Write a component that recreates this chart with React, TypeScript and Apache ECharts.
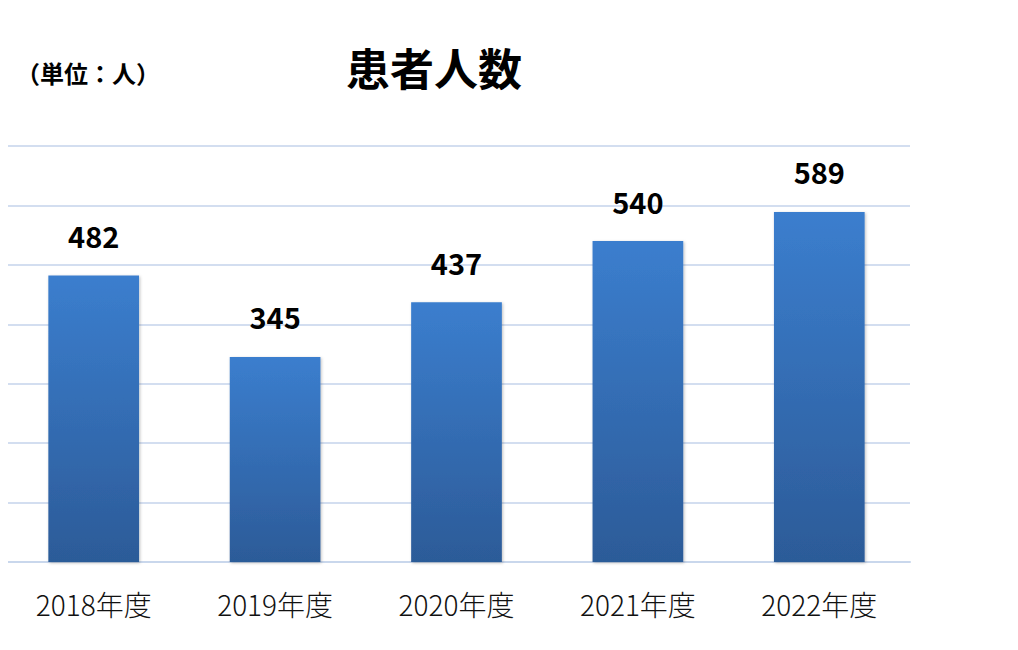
import React, { useEffect, useRef } from "react";
import * as echarts from "echarts";

const categories = ["2018年度", "2019年度", "2020年度", "2021年度", "2022年度"];
const patients = [482, 345, 437, 540, 589];
const yMin = 0;
const yMax = 700;
const yInterval = 100;

export default function App() {
  const ref = useRef<HTMLDivElement>(null);
  useEffect(() => {
    if (!ref.current) return;
    const chart = echarts.init(ref.current, undefined, { renderer: "svg" });
    const font = "'Noto Sans CJK JP', 'Noto Sans', sans-serif";
    chart.setOption({
      animation: false,
      backgroundColor: "#ffffff",
      textStyle: { fontFamily: font },
      title: [
        {
          text: "患者人数",
          left: 429,
          top: 40,
          textAlign: "center",
          textStyle: { fontSize: 44, fontWeight: "bold", color: "#000", fontFamily: font },
        },
        {
          text: "（単位：人）",
          left: 11,
          top: 55,
          textStyle: { fontSize: 24, fontWeight: "bold", color: "#000", fontFamily: font },
        },
      ],
      grid: { left: 3, right: 108, top: 146, bottom: 88, containLabel: false },
      xAxis: {
        type: "category",
        data: categories,
        axisLine: { show: true, lineStyle: { color: "#c9d7ec", width: 2 } },
        axisTick: { show: false },
        axisLabel: { fontSize: 28, color: "#111", margin: 28, fontFamily: font, fontWeight: 300 },
      },
      yAxis: {
        type: "value",
        min: yMin,
        max: yMax,
        interval: yInterval,
        axisLabel: { show: false },
        axisLine: { show: false },
        axisTick: { show: false },
        splitLine: { lineStyle: { color: "#d3def0", width: 2 } },
      },
      series: [
        {
          type: "bar",
          data: patients,
          barWidth: "50%",
          itemStyle: {
            color: new echarts.graphic.LinearGradient(0, 0, 0, 1, [
              { offset: 0, color: "#3b7ece" },
              { offset: 1, color: "#2c5b98" },
            ]),
            shadowColor: "rgba(0,0,0,0.25)",
            shadowBlur: 3,
            shadowOffsetX: 1,
            shadowOffsetY: 1,
          },
          label: {
            show: true,
            position: "top",
            distance: 26,
            fontSize: 29,
            fontWeight: "bold",
            color: "#000",
            fontFamily: font,
          },
        },
      ],
    });
    return () => chart.dispose();
  }, []);
  return <div ref={ref} style={{ width: 1018, height: 650, margin: -8 }} />;
}
